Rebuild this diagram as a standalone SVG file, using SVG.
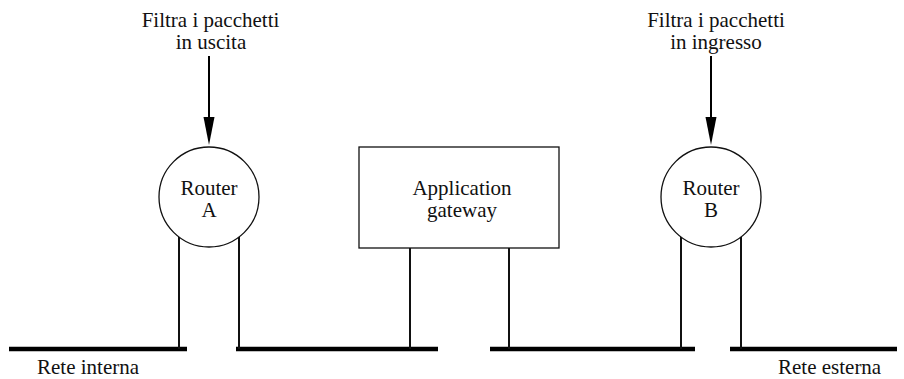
<svg xmlns="http://www.w3.org/2000/svg" width="904" height="379" viewBox="0 0 904 379">
  <style>
    text { font-family: "Liberation Serif", "Times New Roman", serif; font-size: 21px; fill: #111; }
    .c { text-anchor: middle; }
    .shape { fill: #fff; stroke: #111; stroke-width: 1.3; }
    .drop { stroke: #111; stroke-width: 2; fill: none; }
    .bus { stroke: #000; stroke-width: 4.5; fill: none; }
    .arrow { stroke: #000; stroke-width: 2; fill: none; }
    .head { fill: #000; }
  </style>

  <rect width="904" height="379" fill="#fff"/>

  <!-- network segments, taps and filter arrows -->
  <g id="connectors">
    <line class="bus" x1="9" y1="349" x2="187" y2="349"/>
    <line class="bus" x1="236" y1="349" x2="438" y2="349"/>
    <line class="bus" x1="490" y1="349" x2="695" y2="349"/>
    <line class="bus" x1="730" y1="349" x2="897" y2="349"/>

    <line class="drop" x1="179" y1="237" x2="179" y2="349"/>
    <line class="drop" x1="239" y1="237" x2="239" y2="349"/>
    <line class="drop" x1="410" y1="248" x2="410" y2="349"/>
    <line class="drop" x1="509" y1="248" x2="509" y2="349"/>
    <line class="drop" x1="681" y1="237" x2="681" y2="349"/>
    <line class="drop" x1="741" y1="237" x2="741" y2="349"/>

    <line class="arrow" x1="209" y1="56" x2="209" y2="119"/>
    <path class="head" d="M203.5,117 L214.5,117 L209,145 Z"/>
    <line class="arrow" x1="711" y1="56" x2="711" y2="119"/>
    <path class="head" d="M705.5,117 L716.5,117 L711,145 Z"/>
  </g>

  <g id="label-out">
    <text class="c" x="210.5" y="27">Filtra i pacchetti</text>
    <text class="c" x="211" y="49">in uscita</text>
  </g>

  <g id="label-in">
    <text class="c" x="716" y="27">Filtra i pacchetti</text>
    <text class="c" x="716" y="49">in ingresso</text>
  </g>

  <g id="router-a">
    <circle class="shape" cx="209" cy="197" r="50"/>
    <text class="c" x="209" y="195">Router</text>
    <text class="c" x="209" y="217">A</text>
  </g>

  <g id="application-gateway">
    <rect class="shape" x="359" y="147" width="200" height="101"/>
    <text class="c" x="462" y="195">Application</text>
    <text class="c" x="462" y="217">gateway</text>
  </g>

  <g id="router-b">
    <circle class="shape" cx="711" cy="197" r="50"/>
    <text class="c" x="711" y="195">Router</text>
    <text class="c" x="711" y="217">B</text>
  </g>

  <g id="internal-net">
    <text x="37" y="374">Rete interna</text>
  </g>

  <g id="external-net">
    <text x="778" y="374">Rete esterna</text>
  </g>
</svg>
